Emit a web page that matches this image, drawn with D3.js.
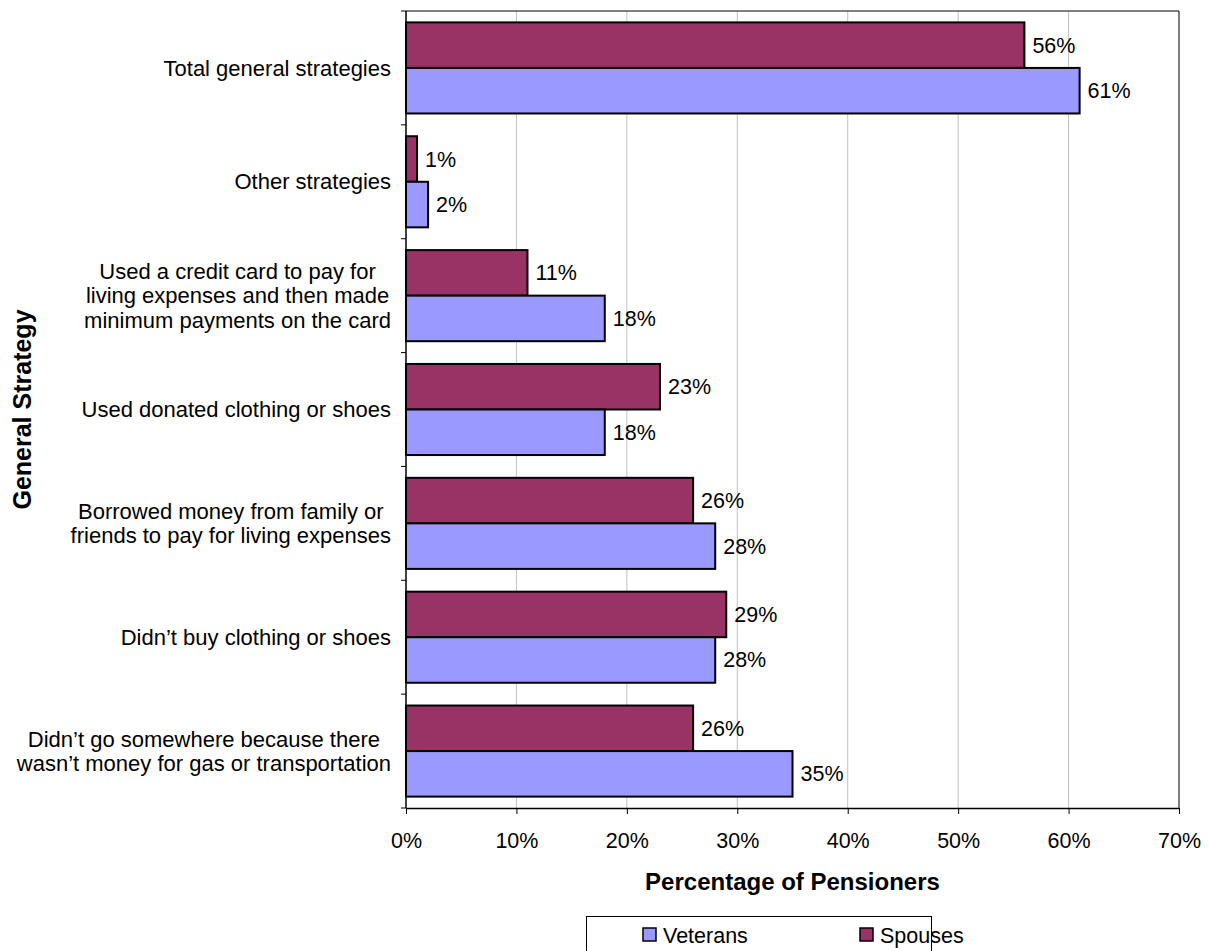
<!DOCTYPE html>
<html>
<head>
<meta charset="utf-8">
<script src="https://cdn.jsdelivr.net/npm/d3@7"></script>
<style>
  html, body { margin: 0; padding: 0; background: #fff; }
  svg { display: block; font-family: "Liberation Sans", Arial, sans-serif; }
</style>
</head>
<body>
<svg id="chart" width="1210" height="951"></svg>
<script>
// Strategies used by pensioners, top to bottom
const categories = [
  "Total general strategies",
  "Other strategies ",
  "Used a credit card to pay for\nliving expenses and then made\nminimum payments on the card",
  "Used donated clothing or shoes",
  "Borrowed money from family or\nfriends to pay for living expenses",
  "Didn\u2019t buy clothing or shoes",
  "Didn\u2019t go somewhere because there\nwasn\u2019t money for gas or transportation"
];
const seriesNames = ["Spouses", "Veterans"];
const spouses  = [56, 1, 11, 23, 26, 29, 26];
const veterans = [61, 2, 18, 18, 28, 28, 35];
const xTicks = [0, 10, 20, 30, 40, 50, 60, 70];
const colors = { Spouses: "#993366", Veterans: "#9999FF" };

const FS = 21.5;      // values, ticks, legend
const CAT_FS = 22;    // category labels
const TITLE_FS = 24;  // axis titles

const svg = d3.select("#chart");
const plot = { left: 406, right: 1179, top: 11, bottom: 808 };

const x = d3.scaleLinear().domain([0, 70]).range([plot.left, plot.right]);
const y = d3.scaleBand().domain(categories).range([plot.top, plot.bottom]).paddingInner(0.2).paddingOuter(0.1);
const ySub = d3.scaleBand().domain(seriesNames).range([0, y.bandwidth()]);

// Vertical gridlines
svg.append("g")
  .selectAll("line")
  .data(xTicks.slice(1, -1))
  .join("line")
  .attr("x1", d => x(d)).attr("x2", d => x(d))
  .attr("y1", plot.top).attr("y2", plot.bottom)
  .attr("stroke", "#c0c0c0").attr("stroke-width", 1);

// Plot frame (top and right)
svg.append("path")
  .attr("d", `M${plot.left},${plot.top}H${plot.right}V${plot.bottom}`)
  .attr("fill", "none").attr("stroke", "#000").attr("stroke-width", 1);

// Bars
const rows = categories.map((c, i) => ({ cat: c, Spouses: spouses[i], Veterans: veterans[i] }));
const groups = svg.append("g").selectAll("g")
  .data(rows).join("g")
  .attr("transform", d => `translate(0,${y(d.cat)})`);

groups.selectAll("rect")
  .data(d => seriesNames.map(s => ({ s, v: d[s] })))
  .join("rect")
  .attr("x", x(0))
  .attr("y", d => ySub(d.s))
  .attr("width", d => x(d.v) - x(0))
  .attr("height", ySub.bandwidth())
  .attr("fill", d => colors[d.s])
  .attr("stroke", "#000").attr("stroke-width", 2);

groups.selectAll("text.val")
  .data(d => seriesNames.map(s => ({ s, v: d[s] })))
  .join("text")
  .attr("class", "val")
  .attr("x", d => x(d.v) + 8)
  .attr("y", d => ySub(d.s) + ySub.bandwidth() / 2)
  .attr("dy", "0.35em")
  .attr("font-size", FS)
  .text(d => d.v + "%");

// X axis
const xAxis = svg.append("g")
  .attr("transform", `translate(0,${plot.bottom})`)
  .call(d3.axisBottom(x).tickValues(xTicks).tickFormat(d => d + "%").tickSize(6).tickSizeOuter(0));
xAxis.select(".domain").attr("stroke", "#000").attr("stroke-width", 1.5);
xAxis.selectAll(".tick line").attr("stroke", "#000");
xAxis.selectAll(".tick text")
  .attr("font-size", FS).attr("font-family", "Liberation Sans, Arial, sans-serif").attr("fill", "#000")
  .attr("y", 32).attr("dy", "0.35em");

// Y axis line with ticks at category boundaries
const boundaries = d3.range(categories.length + 1).map(i => plot.top + i * (plot.bottom - plot.top) / categories.length);
svg.append("line")
  .attr("x1", plot.left).attr("x2", plot.left)
  .attr("y1", plot.top).attr("y2", plot.bottom)
  .attr("stroke", "#000").attr("stroke-width", 1.5);
svg.append("g").selectAll("line")
  .data(boundaries).join("line")
  .attr("x1", plot.left - 5).attr("x2", plot.left)
  .attr("y1", d => d).attr("y2", d => d)
  .attr("stroke", "#000");

// Category labels: block right-aligned to the axis, lines centred in the block
const labelRight = 391;
const lineH = 24.5;
categories.forEach(c => {
  const lines = c.split("\n");
  const g = svg.append("g");
  const cy = y(c) + y.bandwidth() / 2;
  const texts = lines.map((ln, k) => g.append("text")
    .attr("font-size", CAT_FS)
    .attr("text-anchor", "middle")
    .attr("y", cy + (k - (lines.length - 1) / 2) * lineH)
    .attr("dy", "0.35em")
    .text(ln));
  const w = d3.max(texts, t => t.node().getComputedTextLength());
  texts.forEach(t => t.attr("x", labelRight - w / 2));
});

// Axis titles
svg.append("text")
  .attr("x", (plot.left + plot.right) / 2).attr("y", 882)
  .attr("text-anchor", "middle").attr("dy", "0.35em")
  .attr("font-size", TITLE_FS).attr("font-weight", "bold")
  .text("Percentage of Pensioners");
svg.append("text")
  .attr("transform", `translate(22,${(plot.top + plot.bottom) / 2}) rotate(-90)`)
  .attr("text-anchor", "middle").attr("dy", "0.35em")
  .attr("font-size", 25).attr("font-weight", "bold")
  .text("General Strategy");

// Legend
const legend = svg.append("g");
legend.append("rect").attr("x", 586.5).attr("y", 916.5).attr("width", 345).attr("height", 50)
  .attr("fill", "#fff").attr("stroke", "#000").attr("stroke-width", 1);
const legendItems = [{ s: "Veterans", x: 643 }, { s: "Spouses", x: 860 }];
legendItems.forEach(it => {
  legend.append("rect").attr("x", it.x).attr("y", 928).attr("width", 13).attr("height", 13)
    .attr("fill", colors[it.s]).attr("stroke", "#000").attr("stroke-width", 1.5);
  legend.append("text").attr("x", it.x + 20).attr("y", 935).attr("dy", "0.35em")
    .attr("font-size", FS).text(it.s);
});
</script>
</body>
</html>
